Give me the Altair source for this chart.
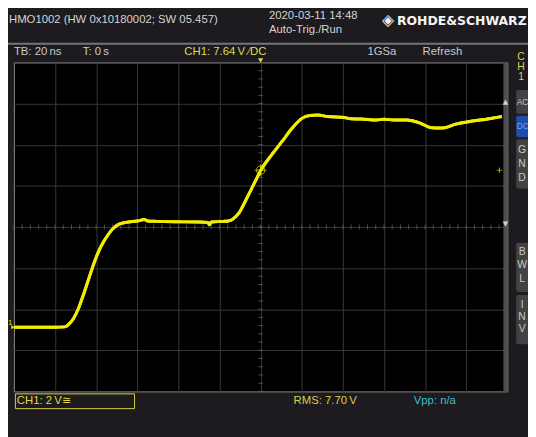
import altair as alt
import pandas as pd

# ---- waveform (time in ns, CH1 voltage in V) ----
time_ns = [-120.0, -110.0, -100.0, -95.3, -93.4, -91.0, -88.6, -86.2, -83.8, -81.4,
           -79.0, -76.6, -74.2, -71.9, -69.5, -65.6, -59.9, -56.5, -55.0, -50.3,
           -40.7, -30.0, -25.6, -24.9, -24.0, -18.2, -15.8, -13.4, -10.5, -7.2,
           -4.8, -2.4, 0.0, 5.7, 10.5, 15.3, 20.1, 24.0, 27.8, 32.6,
           40.7, 44.0, 48.9, 56.5, 60.0, 64.7, 70.9, 77.6, 82.4, 87.2,
           90.1, 94.9, 101.6, 107.8, 112.6, 117.4]
volts = [0.0, 0.0, 0.0, 0.02, 0.14, 0.43, 0.91, 1.58, 2.30, 3.02,
         3.64, 4.12, 4.50, 4.79, 4.98, 5.10, 5.17, 5.24, 5.17, 5.15,
         5.13, 5.12, 5.10, 4.98, 5.12, 5.15, 5.17, 5.27, 5.56, 6.18,
         6.66, 7.14, 7.62, 8.43, 9.05, 9.68, 10.16, 10.30, 10.32, 10.25,
         10.20, 10.14, 10.13, 10.08, 10.12, 10.08, 10.08, 9.93, 9.72, 9.69,
         9.72, 9.88, 10.01, 10.09, 10.17, 10.25]

# scope settings
time_per_div = 20          # ns
volt_per_div = 2           # V
v_center = 4.88            # vertical offset (screen centre), V
trigger_level = 7.64       # V
x_grid = [-100, -80, -60, -40, -20, 0, 20, 40, 60, 80, 100]
y_grid = [-1.12, 0.88, 2.88, 4.88, 6.88, 8.88, 10.88]
x_minor = [-120 + 4 * i for i in range(61)]
y_minor = [v_center - 8 + 0.4 * i for i in range(41)]

header_left = "HMO1002 (HW 0x10180002; SW 05.457)"
header_date = "2020-03-11 14:48"
header_mode = "Auto-Trig./Run"
brand = "ROHDE&SCHWARZ"
row2 = ["TB: 20\u2009ns", "T: 0\u2009s", "1GSa", "Refresh"]
trig_text = "CH1: 7.64\u2009V \u2044DC"
ch_text = "CH1: 2\u2009V\u2245"
rms_text = "RMS: 7.70\u2009V"
vpp_text = "Vpp: n/a"

# ---- layout (page pixels) ----
PL, PT = 14, 60            # plot origin on the page
W, H = 501, 334
FONT = "Liberation Sans"
BG = "#1d1b1f"
YEL = "#f2ec00"
TXT = "#d4d4d4"

one = pd.DataFrame({"k": [0]})


def txt(s, x, y, color=TXT, size=11.5, align="left", weight="normal", font=FONT):
    return alt.Chart(one).mark_text(
        text=s, align=align, baseline="middle", fontSize=size, color=color,
        fontWeight=weight, font=font
    ).encode(x=alt.value(x - PL), y=alt.value(y - PT))


def box(x1, x2, y1, y2, fill, stroke=None, radius=0, sw=1):
    kw = dict(color=fill, cornerRadius=radius)
    if stroke is not None:
        kw = dict(fill=fill, stroke=stroke, strokeWidth=sw, cornerRadius=radius)
    return alt.Chart(one).mark_rect(**kw).encode(
        x=alt.value(x1 - PL), x2=alt.value(x2 - PL),
        y=alt.value(y1 - PT), y2=alt.value(y2 - PT))


xs = alt.Scale(domain=[-6 * time_per_div, 6 * time_per_div], nice=False, zero=False)
ys = alt.Scale(domain=[v_center - 4 * volt_per_div, v_center + 4 * volt_per_div], nice=False, zero=False)

wave = pd.DataFrame({"t": time_ns, "v": volts})

trace = alt.Chart(wave).mark_line(color=YEL, strokeWidth=3, interpolate="monotone").encode(
    x=alt.X("t:Q", scale=xs,
            axis=alt.Axis(values=x_grid, grid=True, gridColor="#383838", labels=False,
                          ticks=False, domain=False, title=None)),
    y=alt.Y("v:Q", scale=ys,
            axis=alt.Axis(values=y_grid, grid=True, gridColor="#383838", labels=False,
                          ticks=False, domain=False, title=None)),
)

xt = alt.Chart(pd.DataFrame({"t": x_minor})).mark_tick(
    orient="vertical", size=5, thickness=1, color="#6a6a6a").encode(
    x=alt.X("t:Q", scale=xs), y=alt.datum(v_center))
yt = alt.Chart(pd.DataFrame({"v": y_minor})).mark_tick(
    orient="horizontal", size=5, thickness=1, color="#6a6a6a").encode(
    y=alt.Y("v:Q", scale=ys), x=alt.datum(0))

trig = pd.DataFrame({"t": [0], "v": [trigger_level]})
trig_circle = alt.Chart(trig).mark_point(shape="circle", size=70, filled=False,
                                         color=YEL, strokeWidth=1).encode(
    x=alt.X("t:Q", scale=xs), y=alt.Y("v:Q", scale=ys))
trig_cross = alt.Chart(trig).mark_point(shape="M-1,0H1M0,-1V1", size=150, filled=False,
                                        color=YEL, strokeWidth=1).encode(
    x=alt.X("t:Q", scale=xs), y=alt.Y("v:Q", scale=ys))
lvl_plus = alt.Chart(trig).mark_point(shape="M-1,0H1M0,-1V1", size=30, filled=False,
                                      color=YEL, strokeWidth=1).encode(
    x=alt.value(507 - PL), y=alt.Y("v:Q", scale=ys))
trig_top = alt.Chart(trig).mark_point(shape="triangle-down", size=28, filled=True,
                                      color="#e0d840", opacity=1).encode(
    x=alt.X("t:Q", scale=xs), y=alt.value(-2))

gnd = pd.DataFrame({"v": [0.0]})
gnd_arrow = alt.Chart(gnd).mark_point(shape="triangle-right", size=18, filled=True,
                                      color="#e0d840", opacity=1).encode(
    x=alt.value(13 - PL), y=alt.Y("v:Q", scale=ys))
gnd_label = alt.Chart(gnd).mark_text(text="1", fontSize=8, color="#e0d840", align="left",
                                     baseline="bottom", font=FONT).encode(
    x=alt.value(8 - PL), y=alt.Y("v:Q", scale=ys))

layers = [
    trace, xt, yt,
    # scroll strip on the right of the grid
    box(511, 515, 60, 394, "#4e4e4e"),
    txt("\u25B2", 513, 100, color="#d0d0d0", size=7, align="center", font="DejaVu Sans"),
    txt("\u25BC", 513, 224, color="#d0d0d0", size=7, align="center", font="DejaVu Sans"),
    trace, trig_circle, trig_cross, lvl_plus, trig_top, gnd_arrow, gnd_label,
    # header
    box(8, 540, 40, 42, "#767676"),
    txt(header_left, 9, 17),
    txt(header_date, 273, 13),
    txt(header_mode, 273, 27),
    txt("\u25C8", 394, 17, color="#f0f0f0", size=16, align="center", font="DejaVu Sans"),
    txt(brand, 403, 17.5, color="#f4f4f4", size=12.6, weight="bold", font="DejaVu Sans"),
    txt(row2[0], 14, 49, color="#c8c8c8"),
    txt(row2[1], 84, 49, color="#c8c8c8"),
    txt(trig_text, 187, 49, color="#dcdc50"),
    txt(row2[2], 373, 49, color="#c8c8c8"),
    txt(row2[3], 429, 49, color="#c8c8c8"),
    # right side panel
    txt("C", 529, 55, color="#d8d848", size=10.5, align="center"),
    txt("H", 529, 65, color="#d8d848", size=10.5, align="center"),
    txt("1", 529, 75, color="#d8d848", size=10.5, align="center"),
    box(524, 545, 88, 112, "#424242", radius=2),
    txt("AC", 524.5, 100, color="#c8c8c8", size=8.5),
    box(524, 545, 114, 136, "#1f4fa8", radius=2),
    txt("DC", 524.5, 125, color="#62a8ff", size=8.5),
    box(524, 545, 138, 188, "#424242", radius=2),
    txt("G", 530, 149, color="#c8c8c8", size=10.5, align="center"),
    txt("N", 530, 163, color="#c8c8c8", size=10.5, align="center"),
    txt("D", 530, 177, color="#c8c8c8", size=10.5, align="center"),
    box(524, 545, 243, 293, "#424242", radius=2),
    txt("B", 530, 253, color="#c8c8c8", size=10.5, align="center"),
    txt("W", 530, 266, color="#c8c8c8", size=10.5, align="center"),
    txt("L", 530, 280, color="#c8c8c8", size=10.5, align="center"),
    box(524, 545, 296, 346, "#424242", radius=2),
    txt("I", 530, 306, color="#c8c8c8", size=10.5, align="center"),
    txt("N", 530, 318, color="#c8c8c8", size=10.5, align="center"),
    txt("V", 530, 331, color="#c8c8c8", size=10.5, align="center"),
    # footer
    box(15.5, 136.5, 396.5, 411.5, BG, stroke="#d8d040"),
    txt(ch_text, 17, 404, color="#e0d848"),
    txt(rms_text, 298, 404, color="#d8d048"),
    txt(vpp_text, 420, 404, color="#38c0cc"),
]

chart = alt.layer(*layers).properties(
    width=W, height=H,
    autosize=alt.AutoSizeParams(type="none"),
    padding={"left": 6, "top": 52, "right": 21, "bottom": 43},
    background=BG,
).configure_view(fill="#000000", stroke="#8a8a8a", strokeWidth=1)

chart.save("out.html", embed_options={"renderer": "svg", "actions": False})
